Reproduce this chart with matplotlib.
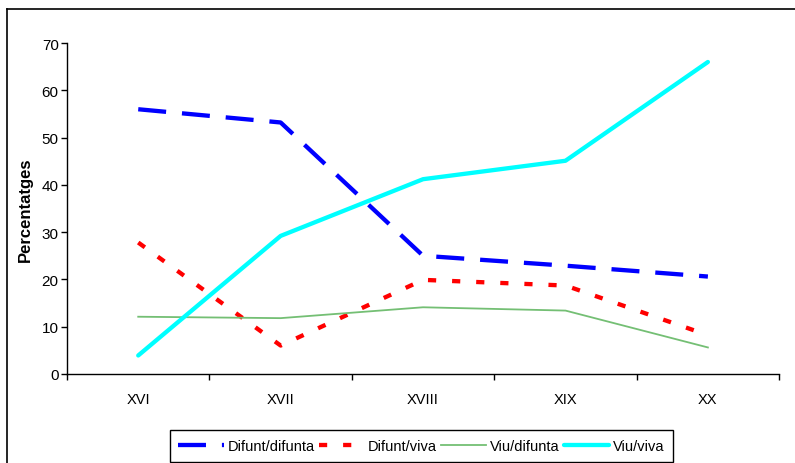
import matplotlib
matplotlib.use("Agg")
import matplotlib.pyplot as plt
from matplotlib.lines import Line2D

plt.rcParams['font.family'] = ['Liberation Sans', 'DejaVu Sans']

segles = ["XVI", "XVII", "XVIII", "XIX", "XX"]
difunt_difunta = [56.0, 53.2, 25.0, 22.9, 20.6]
difunt_viva = [27.8, 6.0, 19.9, 18.7, 8.2]
viu_difunta = [12.1, 11.8, 14.1, 13.4, 5.6]
viu_viva = [3.9, 29.2, 41.2, 45.1, 66.0]

fig = plt.figure(figsize=(7.95, 4.64), dpi=100)
ax = fig.add_axes([0.0843, 0.192, 0.8957, 0.713])

x = [i + 0.5 for i in range(len(segles))]

ax.plot(x, difunt_difunta, color="#0000ff", lw=3.1, dashes=(6.5, 3.7),
        dash_capstyle="butt", label="Difunt/difunta")
ax.plot(x, difunt_viva, color="#ff0000", lw=3.1, dashes=(1.9, 3.7),
        dash_capstyle="butt", label="Difunt/viva")
ax.plot(x, viu_difunta, color="#74bf74", lw=1.3, label="Viu/difunta")
ax.plot(x, viu_viva, color="#00ffff", lw=3.1, solid_capstyle="round",
        label="Viu/viva")

ax.set_xlim(0, len(segles))
ax.set_ylim(0, 70)
ax.set_yticks(range(0, 71, 10))
ax.set_xticks(range(len(segles) + 1))
ax.set_xticklabels([])
ax.set_xticks(x, minor=True)
ax.set_xticklabels(segles, minor=True)
ax.tick_params(axis="x", which="minor", length=0, pad=13, labelsize=10.5)
ax.tick_params(axis="x", which="major", length=4, width=1)
ax.tick_params(axis="y", length=4, width=1, labelsize=11, pad=2)
for s in ["top", "right"]:
    ax.spines[s].set_visible(False)
for s in ["left", "bottom"]:
    ax.spines[s].set_linewidth(1)
ax.set_ylabel("Percentatges", fontweight="bold", fontsize=12, labelpad=6)

# outer chart frame
fig.add_artist(Line2D([0.0088, 1.0], [0.978, 0.978], color="black", lw=1.2,
                      transform=fig.transFigure))
fig.add_artist(Line2D([0.0088, 0.0088], [0.0, 0.978], color="black", lw=1.2,
                      transform=fig.transFigure))

leg = fig.legend(loc="center", bbox_to_anchor=(0.530, 0.0366), ncol=4,
                 fontsize=10.5, frameon=True, fancybox=False, framealpha=1,
                 edgecolor="black", handlelength=3.1, handletextpad=0.25,
                 columnspacing=0.3, borderpad=0.6, borderaxespad=0)
leg.get_frame().set_linewidth(1)

fig.savefig("out.png", dpi=100)
